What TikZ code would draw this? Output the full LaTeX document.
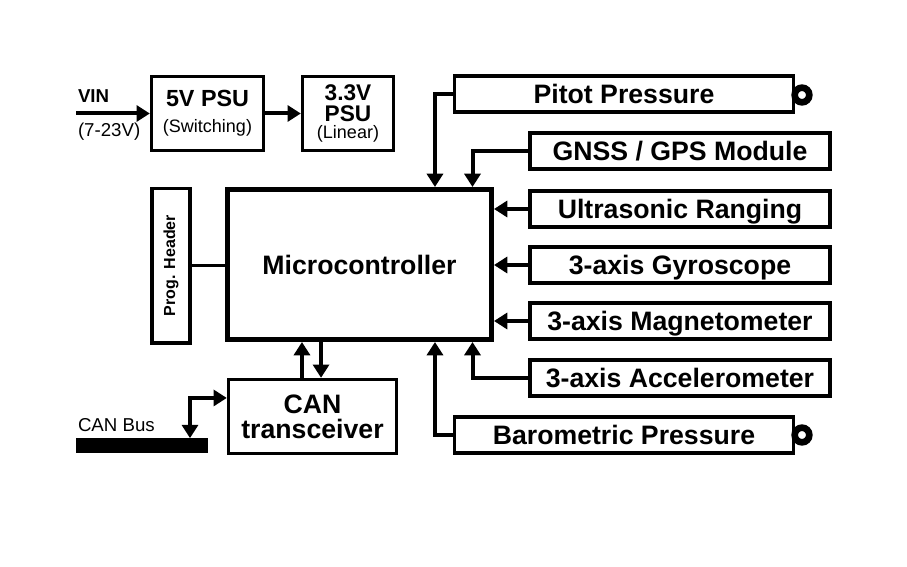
\documentclass[tikz,border=0pt]{standalone}
\usepackage{fontspec}
\setmainfont{Liberation Sans}
\usetikzlibrary{arrows.meta}

\begin{document}
\begin{tikzpicture}[
  x = 0.75pt,
  y = -0.75pt,
  block/.style = {
    draw,
    line width = 2.5pt,
    inner sep = 0pt,
    align = center,
    font = \fontsize{20}{18.75}\selectfont\bfseries
  },
  sensor/.style = {
    block,
    minimum width = 225pt,
    minimum height = 27pt,
    text height = 14.3pt,
    text depth = 0pt
  },
  supply/.style = {
    block,
    minimum height = 55.5pt,
    font = \fontsize{17.5}{18.75}\selectfont\bfseries
  },
  port/.style = {
    shape = circle,
    draw,
    fill = white,
    line width = 5pt,
    minimum size = 11pt,
    inner sep = 0pt
  },
  note/.style = {
    anchor = base west,
    inner sep = 0pt,
    font = \fontsize{14}{16}\selectfont
  },
  sig/.style = {
    -{Triangle[length = 10pt, width = 12pt]}
  },
  every path/.style = {
    line width = 3pt
  }
]
  \useasboundingbox (0, 0) rectangle (907, 567);

  % power supply chain
  \coordinate (vin) at (76, 113.5);
  \node[note, font = \fontsize{14}{16}\selectfont\bfseries] (vinname) at (76, 103) {VIN};
  \node[note] (vinrange) at (76, 137) {(7-23V)};
  \node[supply, minimum width = 84pt] (psu5) at (207.5, 113.5)
    {5V PSU\\[1pt]{\fontsize{13.5}{15}\selectfont\mdseries (Switching)}};
  \node[supply, minimum width = 68.25pt, font = \fontsize{17}{18.75}\selectfont\bfseries]
    (psu33) at (348, 113.5)
    {3.3V\\[-2.5pt]PSU\\[-6pt]{\fontsize{13.5}{15}\selectfont\mdseries (Linear)}};

  \draw[sig] (vin) -- (psu5.west);
  \draw[sig] (psu5.east) -- (psu33.west);

  % core
  \node[block, line width = 3.75pt, minimum width = 198pt, minimum height = 112.5pt,
    text height = 14.3pt, text depth = 0pt] (micro) at (359.5, 264.5) {Microcontroller};
  \node[block, rotate = 90, minimum width = 116pt, minimum height = 28.5pt,
    font = \fontsize{12}{14}\selectfont\bfseries] (prog) at (171, 265.5) {Prog. Header};
  \draw[line width = 2pt] (prog.south) -- (prog.south -| micro.west);

  % sensors
  \node[sensor, minimum width = 254pt] (pitot) at (624, 94) {Pitot Pressure};
  \node[port] (pitotport) at (802, 95) {};
  \node[sensor] (gnss) at (680, 151) {GNSS / GPS Module};
  \node[sensor] (ultra) at (680, 209) {Ultrasonic Ranging};
  \node[sensor] (gyro) at (680, 265) {3-axis Gyroscope};
  \node[sensor] (magneto) at (680, 321) {3-axis Magnetometer};
  \node[sensor] (accel) at (680, 378) {3-axis Accelerometer};
  \node[sensor, minimum width = 254pt] (baro) at (624, 435) {Barometric Pressure};
  \node[port] (baroport) at (802, 435) {};

  \draw[sig] (pitot.west) -| ([xshift = 56.6pt]micro.north);
  \draw[sig] (gnss.west) -| ([xshift = 84.75pt]micro.north);
  \draw[sig] (ultra.west) -- (ultra.west -| micro.east);
  \draw[sig] (gyro.west) -- (gyro.west -| micro.east);
  \draw[sig] (magneto.west) -- (magneto.west -| micro.east);
  \draw[sig] (accel.west) -| ([xshift = 84.75pt]micro.south);
  \draw[sig] (baro.west) -| ([xshift = 56.6pt]micro.south);

  % CAN interface
  \node[block, minimum width = 126pt, minimum height = 55.5pt] (can) at (312.5, 416.5)
    {CAN\\transceiver};
  \node[fill, inner sep = 0pt, outer sep = 0pt, minimum width = 99pt, minimum height = 11pt]
    (canbus) at (142, 445.5) {};
  \node[note] (canname) at (76, 431.5) {CAN Bus};

  \draw[sig] ([xshift = -7.9pt]can.north) -- ([xshift = -7.9pt]can.north |- micro.south);
  \draw[sig] ([xshift = 6.4pt]can.north |- micro.south) -- ([xshift = 6.4pt]can.north);
  \draw[{Triangle[length = 10pt, width = 12pt]}-{Triangle[length = 10pt, width = 12pt]}]
    ([xshift = -13.5pt]canbus.north east) |- ([yshift = 13.9pt]can.west);
\end{tikzpicture}
\end{document}
